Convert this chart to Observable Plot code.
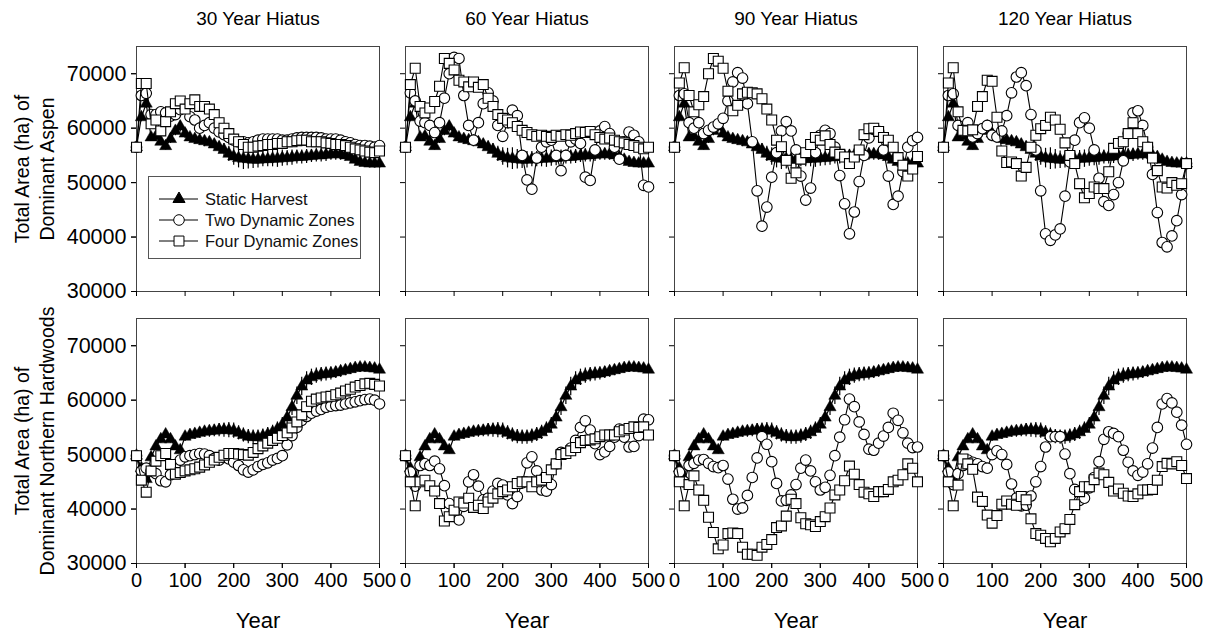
<!DOCTYPE html>
<html><head><meta charset="utf-8">
<script src="https://cdn.jsdelivr.net/npm/d3@7"></script>
<script src="https://cdn.jsdelivr.net/npm/@observablehq/plot@0.6"></script>
<style>
body{margin:0;background:#fff;font-family:"Liberation Sans",Arial,sans-serif;}
#wrap{position:relative;width:1210px;height:636px;overflow:hidden;}
#legend{position:absolute;left:148px;top:176px;width:213px;height:83px;border:1px solid #555;background:#fff;box-sizing:border-box;}
.lrow{position:absolute;left:0;height:20px;width:210px;}
.lrow svg{position:absolute;left:10px;top:0;}
.lrow span{position:absolute;left:56px;top:0;line-height:20px;font-size:16.5px;color:#111;white-space:nowrap;}
</style></head>
<body><div id="wrap"><div id="chart"></div><div id="legend"></div></div>
<script>
const years = [0,10,20,30,40,50,60,70,80,90,100,110,120,130,140,150,160,170,180,190,200,
  210,220,230,240,250,260,270,280,290,300,310,320,330,340,350,360,370,380,390,400,
  410,420,430,440,450,460,470,480,490,500];
const hiatus = ["30 Year Hiatus","60 Year Hiatus","90 Year Hiatus","120 Year Hiatus"];
const rows = ["Aspen","Northern Hardwoods"];
const rowLabels = ["Total Area (ha) of\nDominant Aspen","Total Area (ha) of\nDominant Northern Hardwoods"];
const seriesNames = ["Static Harvest","Two Dynamic Zones","Four Dynamic Zones"];
const xTicks = [0,100,200,300,400,500];
const yTicks = [30000,40000,50000,60000,70000];

// Static harvest (same in every hiatus panel)
const staticAspen = [56500,62000,64500,58300,58500,57500,56700,58000,59500,60300,
  59000,58300,58000,57800,57600,57400,57000,56500,56000,55300,
  54800,54500,54400,54300,54200,54200,54300,54300,54400,54400,
  54500,54500,54600,54700,54700,54800,54900,55000,55000,55100,
  55200,55200,55200,55000,54700,54200,53800,53600,53500,53500,
  53500];
const staticAspenSD = [0,800,900,700,700,700,700,800,900,1000,
  900,900,900,900,1000,1000,1000,1100,1200,1400,
  1600,1800,2000,1800,1600,1500,1400,1400,1500,1600,
  1500,1400,1400,1300,1300,1300,1200,1200,1200,1200,
  1100,1100,1100,1000,1000,900,900,800,800,800,
  800];
const staticHardwoods = [49800,47500,45500,49500,51500,52800,53700,52800,51500,50800,
  53300,53600,53800,54000,54200,54300,54400,54500,54500,54500,
  54400,54000,53600,53300,53200,53200,53400,53700,54100,54700,
  55500,56800,58700,60800,62500,63600,64200,64500,64700,64800,
  64900,65100,65300,65500,65700,65900,66000,66000,65900,65800,
  65600];
const staticHardwoodsSD = [0,500,600,700,700,700,700,700,700,700,
  900,900,1000,1000,1000,1100,1100,1200,1300,1400,
  1400,1300,1300,1300,1300,1300,1300,1300,1300,1300,
  1300,1400,1500,1600,1700,1600,1500,1400,1300,1300,
  1200,1100,1100,1000,1000,900,900,800,800,700,
  700];

// Aspen, two / four dynamic zones
const twoAspen30 = [56500,66000,66400,62500,62500,63000,62800,62200,62500,63400,
  63800,62100,61500,60000,60500,61000,60000,59300,58800,58300,
  57800,57500,57500,57300,57500,57800,58000,58000,58000,58000,
  57800,57800,58000,58200,58300,58300,58300,58300,58200,58000,
  58000,58000,57800,57500,57300,57000,56800,56800,56700,56500,
  56800];
const fourAspen30 = [56500,68200,68200,60800,61500,59500,61200,63000,64500,65000,
  63500,64500,65200,64000,64000,63500,62500,61000,60000,59000,
  58000,57500,57000,56500,56500,56700,56800,57000,57000,57200,
  57200,57500,57500,57700,57800,57800,57500,57500,57500,57300,
  57200,57000,57000,56800,56500,56200,56000,55800,55600,55500,
  55800];
const twoAspen60 = [56500,66500,65000,61300,61000,60500,59200,61000,65500,70000,
  73000,72800,66000,60500,57800,61000,64500,66500,65000,60500,
  58500,61000,63300,62300,55000,50500,48800,54500,56500,57500,
  57800,55000,52200,55000,57500,58000,57200,51000,50400,56000,
  59500,60300,59000,56500,54300,57500,59300,58700,57500,49500,
  49200];
const fourAspen60 = [56500,68000,71000,64000,62800,63700,64900,67700,72800,71900,
  70700,68800,68500,67600,68500,67500,68000,65500,64000,62500,
  61800,61500,61000,60300,59600,59200,58800,58500,58700,58500,
  58300,58700,58500,58800,58700,59000,59300,59200,59400,58800,
  58300,58000,58200,57800,57500,57300,57000,56800,56500,56200,
  56500];
const twoAspen90 = [56500,66000,66300,61000,60000,61000,59000,59600,60200,60800,
  61800,65000,68500,70200,69200,64500,57500,48500,42000,45500,
  51000,55500,59500,61200,59500,56000,51200,46800,49000,55500,
  58700,59600,59000,56500,51300,46100,40600,44600,50200,55000,
  58200,59800,59400,56000,51200,46000,47500,52000,56500,57700,
  58300];
const fourAspen90 = [56500,68300,71100,66000,63000,64300,65800,70000,72800,72300,
  71000,66800,63200,64200,66300,66600,66500,66300,65400,63500,
  61500,57800,56600,54100,50800,51800,54300,55500,57000,58300,
  57800,58600,57000,55600,55200,54700,53500,54700,56000,58800,
  59900,60000,59400,58300,57800,56500,54600,53200,51200,52500,
  54800];
const twoAspen120 = [56500,66000,66300,60500,59500,61000,58400,59000,59900,60500,
  58700,58400,59500,62300,66500,69400,70200,67800,62500,56000,
  48500,40600,39400,40400,41500,47500,53800,57800,61000,61900,
  60000,56000,50800,46500,45800,47800,50000,54000,59000,62800,
  63200,60500,56500,51500,44500,39000,38200,40200,43000,47800,
  53500];
const fourAspen120 = [56500,68300,71100,63000,59600,59500,59700,64000,65800,68800,
  68600,62000,55800,53700,53800,53500,51200,52800,56500,58700,
  59900,60500,62000,61500,59800,57300,55000,53500,49800,47200,
  48000,49200,48900,48900,52000,56300,57200,57500,59000,61000,
  59000,57500,56500,54500,52200,49200,49000,50000,49500,49800,
  53500];

// Northern hardwoods, two / four dynamic zones
const twoHard30 = [49800,47000,47500,47000,46500,45200,45000,46300,47700,49000,
  49600,49800,50000,50200,50100,49800,49300,49000,49500,49200,
  48600,48000,47200,46800,47200,47800,48200,48500,49000,49300,
  49800,51800,53500,55000,56300,57000,57600,58000,58300,58700,
  58900,59000,59100,59300,59500,59700,59900,60100,60200,60000,
  59300];
const fourHard30 = [49800,45300,43100,47000,48800,49800,50200,48200,46400,46700,
  47000,47200,47400,47700,48100,48600,49000,49500,49900,50200,
  50200,50100,50000,49900,50400,51100,51600,52100,52600,53000,
  53500,54000,54900,56000,57300,58800,59800,60200,60400,60600,
  60700,61000,61300,61700,62000,62400,62700,63000,63100,62900,
  62600];
const twoHard60 = [49800,46800,44200,48000,48300,48000,48800,47400,44300,41000,
  39500,38000,40500,45000,46300,44200,41700,42000,43300,44700,
  44400,42600,41000,42300,44800,48500,49600,47000,43500,43300,
  44500,48300,50400,50300,51200,52600,55000,56200,54500,52000,
  50000,50500,51500,53200,54700,53200,51400,51500,53500,56500,
  56400];
const fourHard60 = [49800,45000,40600,45000,45300,44300,43300,41000,37800,38600,
  39800,41300,41100,42000,40300,40700,40100,41300,42000,42800,
  43200,43500,44100,44700,45000,45000,44100,45000,45300,45800,
  47200,48300,50000,50200,50700,51300,52200,52600,52700,52900,
  53300,53600,53600,53600,54200,54500,54800,55100,55000,55100,
  53600];
const twoHard90 = [49800,46800,45000,48000,48400,49000,49100,48400,47800,47600,
  48000,45500,41800,40000,40200,42500,45800,49400,53300,51900,
  48700,44700,41500,41600,42600,44500,47500,49000,47000,45000,
  43500,44000,46200,49800,53200,56400,60200,58800,56000,53700,
  51000,50800,52100,53400,55000,57600,56300,54000,52100,51300,
  51400];
const fourHard90 = [49800,45000,40600,44500,46100,43500,41600,38500,35700,32700,
  33400,35500,35600,35500,33000,31700,31700,31500,33000,33500,
  34400,36600,36900,38700,41800,41000,38400,37300,37100,36800,
  37700,38600,40200,42600,43500,45200,47900,46400,44500,43100,
  42800,42300,43200,43200,43600,45000,45300,46300,48300,47500,
  45000];
const twoHard120 = [49800,46800,44500,46500,48000,49000,48600,48300,47800,47500,
  50000,50700,50000,48200,44600,42000,40600,40700,42400,45000,
  47800,51400,53300,53300,53300,50100,46500,43600,41600,42000,
  43900,45800,48700,52800,54200,53900,53300,50800,48600,47000,
  46200,46800,48300,51200,55000,59300,60300,59500,57800,55400,
  51900];
const fourHard120 = [49800,45000,40600,44400,49200,48300,47300,42200,41400,38900,
  37400,38800,40900,41500,40900,40700,42300,41700,38200,35500,
  35200,34600,34000,34600,35800,36400,38100,40800,43200,44100,
  44100,45400,46600,46300,44900,43300,43700,42900,42400,42300,
  42800,43500,43500,43600,45300,47800,48400,48300,48700,48000,
  45600];

const twoSeries = [[twoAspen30,twoAspen60,twoAspen90,twoAspen120],[twoHard30,twoHard60,twoHard90,twoHard120]];
const fourSeries = [[fourAspen30,fourAspen60,fourAspen90,fourAspen120],[fourHard30,fourHard60,fourHard90,fourHard120]];
const staticSeries = [staticAspen, staticHardwoods];
const staticSD = [staticAspenSD, staticHardwoodsSD];

const data = [];
rows.forEach((row, ri) => {
  hiatus.forEach((h, hi) => {
    staticSeries[ri].forEach((v, i) => data.push({row, hiatus: h, series: seriesNames[0], year: years[i], value: v, sd: staticSD[ri][i]}));
    twoSeries[ri][hi].forEach((v, i) => data.push({row, hiatus: h, series: seriesNames[1], year: years[i], value: v, sd: 0}));
    fourSeries[ri][hi].forEach((v, i) => data.push({row, hiatus: h, series: seriesNames[2], year: years[i], value: v, sd: 0}));
  });
});
const S = data.filter(d => d.series === seriesNames[0]);
const T = data.filter(d => d.series === seriesNames[1]);
const F = data.filter(d => d.series === seriesNames[2]);
const common = {x: "year", y: "value", fx: "hiatus", fy: "row"};

const chart = Plot.plot({
  width: 1210, height: 636,
  marginLeft: 135, marginRight: 22, marginTop: 45, marginBottom: 73,
  style: {fontFamily: "'Liberation Sans', Arial, sans-serif", fontSize: "18px", color: "#000", background: "#fff"},
  fx: {domain: hiatus, paddingInner: 0.095, paddingOuter: 0, label: null},
  fy: {domain: rows, paddingInner: 0.1, paddingOuter: 0, label: null, axis: null},
  x: {domain: [0, 500], label: null},
  y: {domain: [30000, 75000], label: null},
  marks: [
    Plot.frame({stroke: "#444", strokeWidth: 1}),
    Plot.axisFx({anchor: "top", tickSize: 0, tickPadding: 22, fontSize: 19, label: null}),
    Plot.axisX(xTicks, {tickSize: 5, tickPadding: 4, fontSize: 20, label: null}),
    Plot.axisX(xTicks, {tickSize: 5, fill: "none", facetAnchor: null, label: null}),
    Plot.axisY(yTicks, {tickSize: 5, tickPadding: 5, tickFormat: "d", fontSize: 21.5, label: null}),
    Plot.axisY(yTicks, {tickSize: 5, fill: "none", facetAnchor: null, label: null}),
    Plot.text(rows.map((r, i) => ({row: r, h: hiatus[0], label: rowLabels[i]})),
      {fx: "h", fy: "row", text: "label", frameAnchor: "left", textAnchor: "middle", rotate: -90, dx: -103, fontSize: 19.5, lineHeight: 1.3}),
    Plot.text(hiatus.map(h => ({h, row: rows[1]})),
      {fx: "h", fy: "row", text: () => "Year", frameAnchor: "bottom", dy: 64, fontSize: 22}),
    // static harvest
    Plot.line(S, {...common, z: "hiatus", stroke: "#000", strokeWidth: 1.2}),
    Plot.ruleX(S, {x: "year", y1: d => d.value - d.sd, y2: d => d.value + d.sd, fx: "hiatus", fy: "row", stroke: "#000", strokeWidth: 1.2}),
    Plot.dot(S, {...common, symbol: "triangle", r: 4.5, fill: "#000", stroke: "#000", strokeWidth: 0.5}),
    // two dynamic zones
    Plot.line(T, {...common, stroke: "#000", strokeWidth: 1.1}),
    Plot.dot(T, {...common, symbol: "circle", r: 5.3, fill: "#fff", stroke: "#000", strokeWidth: 1.1}),
    // four dynamic zones
    Plot.line(F, {...common, stroke: "#000", strokeWidth: 1.1}),
    Plot.dot(F, {...common, symbol: "square", r: 5.6, fill: "#fff", stroke: "#000", strokeWidth: 1.1})
  ]
});
document.getElementById("chart").appendChild(chart);

// legend
const legend = document.getElementById("legend");
const symbols = [d3.symbolTriangle, d3.symbolCircle, d3.symbolSquare];
const sizes = [Math.PI*4.5*4.5, Math.PI*5.3*5.3, Math.PI*5.6*5.6];
seriesNames.forEach((name, i) => {
  const row = document.createElement("div");
  row.className = "lrow";
  row.style.top = (12 + i * 21) + "px";
  const path = d3.symbol(symbols[i], sizes[i])();
  const fill = i === 0 ? "#000" : "#fff";
  row.innerHTML = `<svg width="42" height="20"><line x1="0" x2="39" y1="10" y2="10" stroke="#000"/>` +
    `<path d="${path}" transform="translate(20,10)" fill="${fill}" stroke="#000"/></svg><span>${name}</span>`;
  legend.appendChild(row);
});
</script></body></html>
